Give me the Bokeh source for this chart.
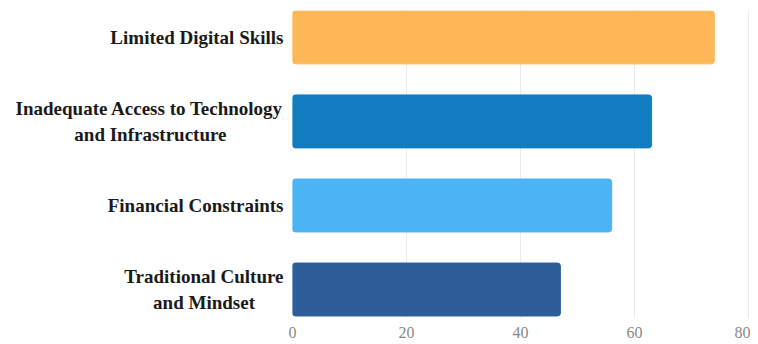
from bokeh.plotting import figure
from bokeh.models import Range1d, FixedTicker, ColumnDataSource
from bokeh.embed import file_html
from bokeh.resources import INLINE

NB = "\u00a0"
categories = ["Limited Digital Skills",
              "Inadequate Access to Technology\nand Infrastructure" + NB * 12,
              "Financial Constraints",
              "Traditional Culture\nand Mindset" + NB * 6]
values = [74, 63, 56, 47]
colors = ["#FDB756", "#127CC1", "#4CB4F2", "#2D5E9A"]
x_ticks = [0, 20, 40, 60, 80]

n = len(categories)
ypos = [n - i - 0.5 for i in range(n)]

src = ColumnDataSource(dict(y=ypos, v=values, c=colors))

p = figure(width=750, height=344, output_backend="svg", toolbar_location=None,
           x_range=Range1d(0, 80.35), y_range=Range1d(0.155, 3.82),
           min_border_left=292, min_border_right=0, min_border_top=10,
           min_border_bottom=26)
p.outline_line_color = None
p.background_fill_color = "white"

p.hbar(y="y", right="v", left=0, height=0.63, color="c", source=src,
       border_radius=3)

p.yaxis.ticker = FixedTicker(ticks=ypos)
p.yaxis.major_label_overrides = {y: c for y, c in zip(ypos, categories)}
p.yaxis.major_label_text_font = "Liberation Serif"
p.yaxis.major_label_text_font_style = "bold"
p.yaxis.major_label_text_font_size = "19px"
p.yaxis.major_label_text_color = "#1a1a1a"
p.yaxis.axis_line_color = None
p.yaxis.major_tick_line_color = None
p.yaxis.minor_tick_line_color = None
p.yaxis.major_label_standoff = 3

p.xaxis.ticker = FixedTicker(ticks=x_ticks)
p.xaxis.major_label_text_font = "Liberation Serif"
p.xaxis.major_label_text_font_size = "16px"
p.xaxis.major_label_text_color = "#888888"
p.xaxis.axis_line_color = None
p.xaxis.major_tick_line_color = None
p.xaxis.minor_tick_line_color = None
p.xaxis.major_label_standoff = 2

p.ygrid.grid_line_color = None
p.xgrid.grid_line_color = "#EAEAF0"
p.xgrid.ticker = FixedTicker(ticks=x_ticks)

open("out.html", "w").write(file_html(p, INLINE))
